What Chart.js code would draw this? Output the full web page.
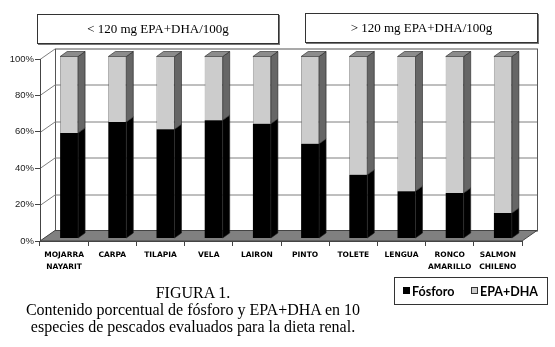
<!DOCTYPE html>
<html>
<head>
<meta charset="utf-8">
<script src="https://cdn.jsdelivr.net/npm/chart.js@4"></script>
<style>
  body { margin: 0; background: #fff; }
  #wrap { position: relative; width: 555px; height: 347px; }
  .box {
    position: absolute; box-sizing: border-box; border: 1px solid #333;
    box-shadow: 1px 1px 0 #777; background: #fff;
    font: 13px "Liberation Serif", serif; color: #000;
    display: flex; align-items: center; justify-content: center;
  }
  #caption {
    position: absolute; left: 0; top: 284px; width: 386px; text-align: center;
    font: 16px "Liberation Serif", serif; line-height: 17px; color: #000;
  }
  #legend {
    position: absolute; left: 394px; top: 277px; width: 154px; height: 28px;
    box-sizing: border-box; border: 1px solid #333; background: #fff;
    font: bold 12.5px Lato, sans-serif; color: #000;
  }
  #legend span { position: absolute; top: 6px; }
  #legend i { position: absolute; top: 9px; width: 7px; height: 7px; box-sizing: border-box; }
</style>
</head>
<body>
<div id="wrap">
  <canvas id="chart" width="555" height="347"></canvas>
  <div class="box" style="left:37px;top:14px;width:242px;height:30px">&lt; 120 mg EPA+DHA/100g</div>
  <div class="box" style="left:305px;top:13px;width:233px;height:30px">&gt; 120 mg EPA+DHA/100g</div>
  <div id="caption">FIGURA 1.<br>Contenido porcentual de fósforo y EPA+DHA en 10<br>especies de pescados evaluados para la dieta renal.</div>
  <div id="legend">
    <i style="left:8px;background:#000"></i><span style="left:17px">Fósforo</span>
    <i style="left:76px;background:#ccc;border:1px solid #333"></i><span style="left:85px">EPA+DHA</span>
  </div>
</div>
<script>
var categories = [["MOJARRA", "NAYARIT"], "CARPA", "TILAPIA", "VELA", "LAIRON",
                  "PINTO", "TOLETE", "LENGUA", ["RONCO", "AMARILLO"], ["SALMON", "CHILENO"]];
var fosforo = [58, 64, 60, 65, 63, 52, 35, 26, 25, 14];
var epaDha = [42, 36, 40, 35, 37, 48, 65, 74, 75, 86];
var yTicks = [0, 20, 40, 60, 80, 100];

// depth of the 3D box and of each bar
var wallDx = 15, wallDy = -10.5;
var barDx = 7, barDy = -5;
var sideColors = ["#000", "#666"];

var threeD = {
  id: 'threeD',
  beforeDraw: function (chart) {
    var ctx = chart.ctx, a = chart.chartArea, y = chart.scales.y;
    ctx.save();
    ctx.lineWidth = 1;
    // back wall
    ctx.fillStyle = "#fff";
    ctx.strokeStyle = "#555";
    ctx.fillRect(a.left + wallDx, a.top + wallDy, a.right - a.left, a.bottom - a.top);
    ctx.strokeRect(a.left + wallDx + 0.5, a.top + wallDy + 0.5, a.right - a.left, a.bottom - a.top);
    // grid on back wall + diagonals to front axis
    ctx.strokeStyle = "#7f7f7f";
    yTicks.forEach(function (v) {
      var py = Math.round(y.getPixelForValue(v)) + 0.5;
      ctx.beginPath();
      ctx.moveTo(a.left, py);
      ctx.lineTo(a.left + wallDx, py + wallDy);
      if (v > 0 && v < 100) ctx.lineTo(a.right + wallDx, py + wallDy);
      ctx.stroke();
    });
    // floor
    ctx.beginPath();
    ctx.moveTo(a.left, a.bottom);
    ctx.lineTo(a.right, a.bottom);
    ctx.lineTo(a.right + wallDx, a.bottom + wallDy);
    ctx.lineTo(a.left + wallDx, a.bottom + wallDy);
    ctx.closePath();
    ctx.fillStyle = "#808080";
    ctx.fill();
    ctx.strokeStyle = "#444";
    ctx.stroke();
    ctx.restore();
  },
  beforeDatasetsDraw: function (chart) {
    chart.ctx.save();
    chart.ctx.translate(5, -2.5);
  },
  afterDatasetsDraw: function (chart) {
    var ctx = chart.ctx;
    ctx.lineWidth = 0.6;
    ctx.strokeStyle = "#222";
    var last = chart.data.datasets.length - 1;
    chart.data.datasets.forEach(function (ds, i) {
      chart.getDatasetMeta(i).data.forEach(function (bar) {
        var p = bar.getProps(['x', 'y', 'base', 'width'], true);
        var l = p.x - p.width / 2, r = p.x + p.width / 2;
        var t = Math.min(p.y, p.base), b = Math.max(p.y, p.base);
        ctx.beginPath();
        ctx.moveTo(r, t);
        ctx.lineTo(r + barDx, t + barDy);
        ctx.lineTo(r + barDx, b + barDy);
        ctx.lineTo(r, b);
        ctx.closePath();
        ctx.fillStyle = sideColors[i];
        ctx.fill();
        ctx.stroke();
        if (i === last) {
          ctx.beginPath();
          ctx.moveTo(l, t);
          ctx.lineTo(l + barDx, t + barDy);
          ctx.lineTo(r + barDx, t + barDy);
          ctx.lineTo(r, t);
          ctx.closePath();
          ctx.fillStyle = "#8c8c8c";
          ctx.fill();
          ctx.stroke();
        }
      });
    });
    ctx.restore();
  }
};

new Chart(document.getElementById("chart"), {
  type: 'bar',
  data: {
    labels: categories,
    datasets: [
      { label: "Fósforo", data: fosforo, backgroundColor: "#000", borderColor: "#000", borderWidth: 0 },
      { label: "EPA+DHA", data: epaDha, backgroundColor: "#cccccc", borderColor: "#444", borderWidth: 0.6 }
    ]
  },
  options: {
    responsive: false,
    animation: false,
    events: [],
    barPercentage: 0.373,
    categoryPercentage: 1,
    layout: { padding: { top: 59, right: 33, left: 0, bottom: 0 } },
    plugins: { legend: { display: false }, tooltip: { enabled: false } },
    scales: {
      x: {
        stacked: true,
        afterFit: function (s) { s.height = 106; },
        grid: { drawOnChartArea: false, tickLength: 5, color: "#444", offset: true },
        border: { color: "#444" },
        ticks: { color: "#000", padding: 3, maxRotation: 0, autoSkip: false,
                 font: { family: "DejaVu Sans", weight: "bold", size: 7.5, lineHeight: 1.6 } }
      },
      y: {
        stacked: true, min: 0, max: 100,
        afterFit: function (s) { s.width = 40; },
        afterBuildTicks: function (s) { s.ticks = yTicks.map(function (v) { return { value: v }; }); },
        grid: { drawOnChartArea: false, tickLength: 5, color: "#444" },
        border: { color: "#444" },
        ticks: { color: "#222", padding: 1, font: { family: "Liberation Sans", size: 9.5 },
                 callback: function (v) { return v + "%"; } }
      }
    }
  },
  plugins: [threeD]
});
</script>
</body>
</html>
